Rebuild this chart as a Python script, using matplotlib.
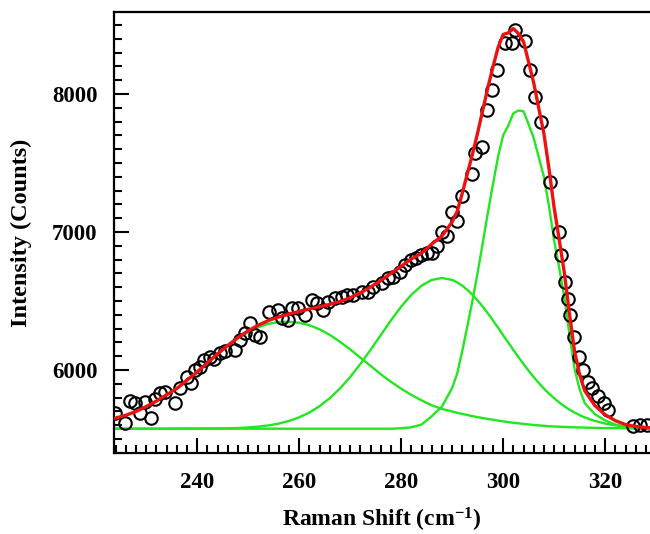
import numpy as np
import matplotlib
matplotlib.use("Agg")
import matplotlib.pyplot as plt
from matplotlib.ticker import MultipleLocator

plt.rcParams['font.family'] = ['Liberation Serif', 'DejaVu Serif']
plt.rcParams['font.weight'] = 'bold'
plt.rcParams['mathtext.fontset'] = 'custom'
plt.rcParams['mathtext.rm'] = 'Liberation Serif:bold'
plt.rcParams['mathtext.it'] = 'Liberation Serif:bold'
plt.rcParams['mathtext.bf'] = 'Liberation Serif:bold'

# measured spectrum (open circles)
raman_x = [223.9, 225.9, 226.9, 227.8, 228.8, 229.8, 231.0, 231.8, 232.7, 233.7,
           235.7, 236.7, 238.0, 238.8, 239.6, 240.6, 241.4, 242.5, 243.3, 244.5,
           245.5, 247.5, 248.4, 249.4, 250.4, 251.4, 252.4, 254.0, 255.9, 256.7,
           257.8, 258.6, 259.8, 261.2, 262.5, 263.5, 264.7, 265.7, 267.1, 268.4,
           269.4, 270.6, 272.4, 273.5, 274.5, 276.3, 277.5, 278.4, 279.8, 280.8,
           281.9, 282.9, 283.9, 285.0, 286.0, 287.0, 288.0, 289.0, 289.9, 290.9,
           291.9, 293.9, 294.5, 295.9, 296.9, 297.8, 298.8, 300.4, 301.8, 302.4,
           304.3, 305.3, 306.3, 307.5, 309.2, 310.9, 311.3, 312.2, 312.7, 313.2,
           313.9, 314.8, 315.7, 316.6, 317.5, 318.6, 319.7, 320.6, 325.5, 326.9,
           328.2]
counts = [5688, 5616, 5775, 5761, 5692, 5768, 5655, 5793, 5835, 5841,
          5761, 5870, 5949, 5906, 6000, 6025, 6070, 6097, 6080, 6121,
          6140, 6145, 6217, 6266, 6338, 6254, 6241, 6423, 6435, 6377,
          6362, 6449, 6449, 6399, 6507, 6486, 6435, 6493, 6522, 6529,
          6543, 6543, 6565, 6565, 6601, 6630, 6667, 6674, 6710, 6760,
          6800, 6815, 6833, 6850, 6845, 6899, 7002, 6971, 7147, 7082,
          7261, 7420, 7572, 7616, 7884, 8029, 8174, 8370, 8370, 8464,
          8384, 8174, 7978, 7797, 7362, 7002, 6833, 6635, 6515, 6400,
          6240, 6096, 6000, 5915, 5867, 5815, 5760, 5710, 5597, 5601,
          5601]

# sample positions of the fitted curves
fit_x = np.r_[np.arange(224, 290, 2), np.arange(290, 317), np.arange(318, 331, 2)]

peak1 = [5652, 5672, 5700, 5735, 5775, 5820, 5865, 5925, 5985, 6050,
         6115, 6175, 6230, 6275, 6310, 6335, 6348, 6350, 6342, 6325,
         6295, 6255, 6205, 6150, 6090, 6030, 5970, 5915, 5865, 5820,
         5780, 5745, 5718,
         5700, 5690, 5682, 5674, 5666, 5659, 5652, 5646, 5640, 5634,
         5628, 5623, 5618, 5614, 5610, 5606, 5602, 5599, 5596, 5593,
         5591, 5589, 5588, 5586, 5585, 5584, 5583,
         5581, 5580, 5579, 5578, 5577, 5576, 5576]

peak2 = [5575, 5575, 5575, 5575, 5575, 5575, 5576, 5576, 5576, 5577,
         5577, 5578, 5580, 5584, 5590, 5599, 5612, 5631, 5657, 5692,
         5738, 5796, 5866, 5949, 6044, 6146, 6253, 6360, 6459, 6545,
         6611, 6653, 6667,
         6653, 6635, 6611, 6580, 6545, 6504, 6459, 6411, 6360, 6307,
         6253, 6200, 6146, 6094, 6044, 5995, 5949, 5906, 5866, 5829,
         5796, 5765, 5738, 5713, 5692, 5673, 5657,
         5631, 5612, 5599, 5590, 5584, 5580, 5578]

peak3 = [5575, 5575, 5575, 5575, 5575, 5575, 5575, 5575, 5575, 5575,
         5575, 5575, 5575, 5575, 5575, 5575, 5575, 5575, 5575, 5575,
         5575, 5575, 5575, 5575, 5575, 5575, 5575, 5575, 5578, 5585,
         5605, 5665, 5735,
         5870, 5975, 6140, 6320, 6505, 6705, 6920, 7138, 7345, 7545,
         7700, 7770, 7860, 7880, 7875, 7780, 7680, 7540, 7400, 7185,
         6940, 6740, 6530, 6260, 6010, 5860, 5760,
         5680, 5635, 5605, 5590, 5580, 5577, 5576]

fit_total = [5652, 5672, 5700, 5735, 5775, 5820, 5866, 5926, 5986, 6052,
             6117, 6178, 6235, 6284, 6325, 6359, 6385, 6406, 6424, 6442,
             6458, 6476, 6496, 6524, 6559, 6601, 6648, 6700, 6752, 6805,
             6846, 6913, 6970,
             7073, 7150, 7283, 7424, 7566, 7718, 7881, 8045, 8195, 8336,
             8431, 8443, 8474, 8438, 8379, 8231, 8081, 7895, 7712, 7457,
             7177, 6944, 6706, 6409, 6137, 5967, 5850,
             5742, 5677, 5633, 5605, 5591, 5583, 5580]

fig = plt.figure(figsize=(6.5, 5.34), dpi=100)
ax = fig.add_axes([0.1754, 0.1517, 0.8246, 0.8258])

green = '#22e622'
for p in (peak1, peak2, peak3):
    ax.plot(fit_x, p, color=green, lw=1.7, zorder=2)
ax.plot(raman_x, counts, 'o', mfc='none', mec='black', ms=9, mew=1.5,
        zorder=3)
ax.plot(fit_x, fit_total, color='#ee1111', lw=2.4, zorder=4)

ax.set_xlim(223.7, 328.8)
ax.set_ylim(5399, 8594)

ax.xaxis.set_major_locator(MultipleLocator(20))
ax.xaxis.set_minor_locator(MultipleLocator(2))
ax.yaxis.set_major_locator(MultipleLocator(1000))
ax.yaxis.set_minor_locator(MultipleLocator(100))
ax.tick_params(which='both', direction='in', width=1.5, labelsize=16.5,
               top=False, right=False)
ax.tick_params(axis='y', which='major', length=11, pad=12)
ax.tick_params(axis='x', which='major', length=11, pad=14)
ax.tick_params(which='minor', length=6)

for side in ('left', 'bottom', 'top'):
    ax.spines[side].set_linewidth(1.6)
ax.spines['right'].set_visible(False)

ax.set_xlabel('Raman Shift (cm$^{-1}$)', fontsize=17, fontweight='bold', labelpad=9)
ax.set_ylabel('Intensity (Counts)', fontsize=17.5, fontweight='bold', labelpad=14)

fig.savefig('out.png', dpi=100)
